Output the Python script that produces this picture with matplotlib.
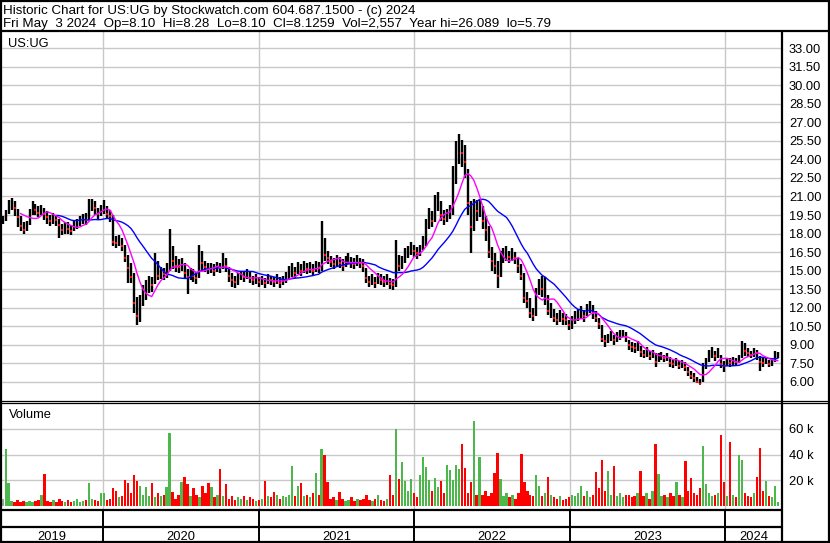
import pandas as pd
import matplotlib
matplotlib.use("Agg")
import matplotlib.pyplot as plt
import matplotlib.dates as mdates
from matplotlib.lines import Line2D

plt.rcParams['font.family'] = ['Liberation Sans', 'DejaVu Sans']

# weekly bars, May 2019 - May 2024
week_end = pd.date_range('2019-05-10', periods=261, freq='W-FRI')

close = [
    19.1, 19.4, 20.3, 20.5, 20.1, 19.3, 18.6, 18.3, 18.6, 19.6,
    20.2, 19.9, 19.7, 20.0, 19.6, 19.3, 19.0, 19.3, 19.1, 18.7,
    18.3, 18.5, 18.4, 18.2, 18.6, 18.8, 19.0, 19.2, 19.1, 20.0,
    20.4, 20.1, 19.6, 19.9, 20.3, 19.6, 19.4, 17.3, 17.2, 17.4,
    17.0, 16.0, 15.2, 14.5, 12.4, 11.3, 12.3, 13.0, 13.5, 14.0,
    13.8, 15.5, 14.6, 14.8, 14.7, 15.0, 16.6, 15.8, 15.4, 15.3,
    15.6, 14.8, 14.5, 14.7, 14.6, 14.4, 16.0, 15.6, 15.3, 15.1,
    15.2, 15.0, 15.3, 15.2, 15.8, 15.4, 14.6, 14.2, 14.1, 14.3,
    14.6, 14.5, 14.7, 14.4, 14.2, 14.3, 14.1, 14.2, 14.0, 14.3,
    14.2, 14.1, 14.3, 14.0, 14.2, 14.4, 14.8, 15.0, 14.8, 15.2,
    15.0, 15.3, 15.1, 15.2, 15.0, 15.3, 15.2, 17.2, 16.3, 16.0,
    15.7, 15.5, 15.8, 15.6, 15.4, 15.7, 15.9, 15.6, 15.5, 15.8,
    15.6, 15.4, 14.4, 14.1, 14.2, 14.0, 14.3, 14.2, 14.1, 14.2,
    13.9, 13.8, 15.8, 15.4, 15.6, 16.2, 16.5, 16.8, 16.6, 16.4,
    16.7, 17.2, 18.5, 19.2, 19.0, 20.5, 20.8, 19.5, 19.2, 19.4,
    19.6, 22.5, 24.0, 25.0, 24.5, 23.8, 20.5, 18.5, 20.0, 19.8,
    20.0, 19.0, 18.3, 16.5, 15.8, 15.4, 14.6, 16.0, 16.2, 16.4,
    16.1, 16.3, 16.0, 15.4, 14.6, 12.8, 12.5, 11.6, 11.3, 12.8,
    13.8, 13.5, 13.9, 11.7, 11.9, 11.2, 11.0, 11.3, 11.1, 11.0,
    10.6, 10.8, 11.2, 11.4, 11.6, 11.3, 11.8, 12.1, 11.6, 11.2,
    10.7, 9.5, 9.3, 9.5, 9.7, 9.4, 9.6, 9.8, 10.0, 9.6,
    9.0, 8.8, 8.7, 8.9, 8.4, 8.2, 8.4, 8.1, 8.2, 7.6,
    8.0, 8.1, 7.9, 8.0, 7.5, 7.4, 7.6, 7.3, 7.4, 7.2,
    6.8, 6.5, 6.3, 6.0, 5.85, 7.2, 7.5, 8.2, 8.4, 8.1,
    8.3, 7.4, 7.3, 7.6, 7.5, 7.7, 7.6, 7.8, 8.8, 8.5,
    8.3, 8.2, 8.4, 8.3, 7.6, 7.5, 7.7, 7.4, 7.6, 8.0,
    8.13,
]

high = [
    19.4, 19.9, 20.7, 20.9, 20.6, 20.0, 19.4, 18.9, 19.0, 20.0,
    20.6, 20.4, 20.2, 20.3, 20.1, 19.8, 19.5, 19.7, 19.5, 19.2,
    18.8, 18.9, 18.9, 18.7, 19.0, 19.2, 19.4, 19.6, 19.7, 20.8,
    20.8, 20.6, 20.1, 20.3, 20.7, 20.2, 19.9, 19.5, 17.8, 17.9,
    17.6, 17.1, 16.3, 15.6, 14.8, 12.9, 13.0, 13.8, 14.2, 14.6,
    14.5, 16.4, 15.8, 15.3, 15.2, 15.6, 18.4, 17.0, 16.2, 15.9,
    16.0, 15.6, 15.1, 15.2, 15.1, 14.9, 17.1, 16.6, 15.8, 15.6,
    15.6, 15.5, 15.7, 15.6, 16.4, 16.0, 15.3, 14.8, 14.6, 14.8,
    15.0, 14.9, 15.1, 14.9, 14.6, 14.7, 14.5, 14.6, 14.4, 14.7,
    14.6, 14.5, 14.7, 14.5, 14.6, 14.9, 15.4, 15.6, 15.3, 15.7,
    15.5, 15.8, 15.6, 15.7, 15.5, 15.8, 15.7, 19.0, 17.6, 16.6,
    16.2, 16.0, 16.3, 16.1, 15.9, 16.2, 16.4, 16.1, 16.0, 16.3,
    16.0, 15.9, 15.2, 14.6, 14.7, 14.5, 14.8, 14.7, 14.6, 14.7,
    14.4, 14.3, 17.5, 16.3, 16.2, 16.8, 17.0, 17.3, 17.1, 16.9,
    17.1, 17.8, 19.2, 20.1, 19.8, 21.1, 21.4, 20.6, 19.9, 20.0,
    20.3, 23.5, 25.5, 26.09, 25.6, 25.2, 23.2, 20.6, 20.8, 20.7,
    20.8, 20.2, 19.4, 18.6, 16.9, 16.4, 15.8, 16.6, 16.8, 17.0,
    16.6, 16.8, 16.5, 16.0, 15.5, 14.8, 13.3, 12.8, 12.0, 13.6,
    14.3, 14.6, 14.5, 13.0, 12.4, 11.9, 11.6, 11.8, 11.6, 11.5,
    11.0, 11.3, 11.7, 11.9, 12.1, 11.8, 12.3, 12.5, 12.2, 11.7,
    11.2, 10.6, 9.8, 9.9, 10.1, 9.8, 10.0, 10.2, 10.2, 10.0,
    9.4, 9.2, 9.1, 9.3, 8.9, 8.6, 8.8, 8.5, 8.6, 8.3,
    8.3, 8.4, 8.2, 8.3, 8.0, 7.8, 7.9, 7.7, 7.8, 7.6,
    7.2, 6.9, 6.7, 6.4, 6.2, 7.5, 7.9, 8.6, 8.8, 8.5,
    8.7, 8.2, 7.7, 7.9, 7.9, 8.0, 7.9, 8.2, 9.3, 9.1,
    8.7, 8.5, 8.7, 8.6, 8.1, 7.9, 8.0, 7.8, 7.9, 8.5,
    8.4,
]

low = [
    18.8, 19.0, 19.6, 19.9, 19.4, 18.5, 18.2, 18.0, 18.2, 18.7,
    19.5, 19.5, 19.3, 19.5, 19.1, 18.8, 18.6, 18.8, 18.6, 17.6,
    17.9, 18.0, 18.0, 17.9, 18.2, 18.4, 18.6, 18.8, 18.7, 19.1,
    19.8, 19.5, 19.2, 19.4, 19.6, 19.2, 18.9, 17.0, 16.8, 17.0,
    16.6, 15.7, 14.0, 14.0, 11.6, 10.6, 10.8, 12.1, 12.6, 13.2,
    13.3, 13.9, 14.2, 14.3, 14.2, 14.4, 15.0, 15.1, 14.9, 14.8,
    15.0, 14.3, 13.1, 14.2, 14.1, 13.9, 14.4, 15.0, 14.9, 14.7,
    14.8, 14.6, 14.9, 14.8, 15.1, 14.9, 14.1, 13.7, 13.6, 13.8,
    14.2, 14.1, 14.3, 14.0, 13.8, 13.9, 13.7, 13.8, 13.6, 13.9,
    13.8, 13.7, 13.9, 13.6, 13.8, 14.0, 14.3, 14.5, 14.4, 14.7,
    14.6, 14.8, 14.7, 14.8, 14.6, 14.9, 14.8, 15.0, 15.8, 15.5,
    15.3, 15.1, 15.4, 15.2, 15.0, 15.3, 15.5, 15.2, 15.1, 15.4,
    15.2, 14.9, 14.0, 13.7, 13.8, 13.6, 13.9, 13.8, 13.7, 13.8,
    13.5, 13.4, 13.7, 15.0, 15.1, 15.6, 16.0, 16.3, 16.1, 15.9,
    16.2, 16.7, 17.0, 18.4, 18.5, 18.9, 19.8, 19.0, 18.7, 18.9,
    19.2, 19.5, 22.0, 23.6, 23.4, 22.5, 19.5, 16.4, 18.2, 19.0,
    19.3, 18.4, 17.4, 16.0, 15.0, 14.7, 13.6, 14.5, 15.6, 15.8,
    15.6, 15.8, 15.5, 14.8, 14.2, 12.4, 12.0, 11.2, 10.9, 11.3,
    13.0, 12.9, 12.2, 11.4, 11.2, 10.8, 10.6, 10.8, 10.6, 10.6,
    10.2, 10.3, 10.7, 10.9, 11.1, 10.8, 11.3, 11.6, 11.1, 10.8,
    10.3, 9.2, 8.8, 9.1, 9.3, 9.0, 9.2, 9.4, 9.6, 9.2,
    8.6, 8.4, 8.3, 8.5, 8.0, 7.9, 8.0, 7.8, 7.9, 7.2,
    7.6, 7.8, 7.6, 7.7, 7.2, 7.1, 7.3, 7.0, 7.1, 6.9,
    6.5, 6.2, 6.0, 5.9, 5.79, 6.0, 7.0, 7.6, 7.9, 7.7,
    7.9, 7.1, 6.8, 7.3, 7.2, 7.3, 7.3, 7.5, 7.9, 8.1,
    8.0, 7.9, 8.0, 7.8, 6.9, 7.2, 7.4, 7.2, 7.3, 7.6,
    7.9,
]

# volume, thousands of shares
volume_k = [
    6, 44, 18, 4, 3, 5, 3, 4, 3, 4,
    3, 4, 5, 9, 25, 4, 3, 5, 3, 6,
    4, 3, 5, 3, 4, 6, 3, 4, 5, 18,
    6, 5, 4, 10, 10, 5, 6, 14, 12, 7,
    8, 20, 18, 10, 24, 19.5, 16, 9, 15, 8,
    17.7, 7, 10, 8, 9, 15, 56.7, 11, 6, 9,
    18.5, 23, 17, 8, 14, 9, 7, 16, 10, 17.7,
    15, 7, 9, 28.7, 8, 17, 6, 8, 5, 7,
    6, 8, 5, 7, 6, 4, 5, 6, 19.5, 8,
    7, 11, 9, 6, 8, 7, 9, 31, 8, 16,
    17.7, 8, 9, 7, 10, 26, 9, 44, 40, 18.5,
    6, 7, 5, 11, 6, 4, 5, 7, 4, 6,
    5, 6, 8.7, 5, 4, 6, 8.7, 5, 4, 6,
    24.6, 9, 60, 21.5, 34, 19.5, 12, 21.5, 10, 7,
    24, 38, 30.5, 20, 12, 22, 15, 19.5, 10, 32,
    28, 20, 32, 28.7, 48, 30, 10, 19, 66, 9,
    38, 9, 12, 8, 10, 26, 41.5, 21, 8, 10,
    7, 9, 6, 10, 40.8, 18.5, 12, 9, 8, 24,
    16, 8, 10, 22.8, 9, 7, 6, 8, 5, 6,
    7, 9, 8, 10, 16, 8, 12, 7, 9, 26.7,
    14, 35.6, 12, 27, 9, 31, 8, 10, 7, 9,
    9, 7, 8, 10, 27, 8, 10, 6, 12, 48,
    25, 8, 9, 7, 10, 8, 18.5, 9, 7, 35,
    12, 22, 10, 9, 14, 47, 17, 10, 8, 9,
    10, 55, 18.5, 8, 50, 9, 7, 40, 36, 10,
    8, 7, 10, 23, 45, 12, 19.5, 8, 7, 16,
    3,
]

years = [2019, 2020, 2021, 2022, 2023, 2024]

header1 = "Historic Chart for US:UG by Stockwatch.com 604.687.1500 - (c) 2024"
header2 = ("Fri May  3 2024  Op=8.10  Hi=8.28  Lo=8.10  Cl=8.1259  "
           "Vol=2,557  Year hi=26.089  lo=5.79")

df = pd.DataFrame({"high": high, "low": low, "close": close,
                   "volume": [v * 1000 for v in volume_k]}, index=week_end)
df["ma_short"] = df["close"].rolling(7).mean()
df["ma_long"] = df["close"].rolling(19).mean()
change = df["close"].diff().fillna(0)

W, H = 830, 543
fig = plt.figure(figsize=(W / 100, H / 100), dpi=100)
fs = 9.3
grid_col = "#c8c8c8"


def box(x0, y_top, x1, y_bot):
    # pixel box -> figure fraction rect
    return [x0 / W, 1 - y_bot / H, (x1 - x0) / W, (y_bot - y_top) / H]


def fig_line(xs, ys, lw):
    fig.add_artist(Line2D([x / W for x in xs], [1 - y / H for y in ys],
                          color="black", lw=lw, solid_capstyle="butt"))


x_left = mdates.date2num(pd.Timestamp("2019-05-06"))
x_right = mdates.date2num(pd.Timestamp("2024-05-13"))
year_starts = [pd.Timestamp(f"{y}-01-01") for y in years[1:]]

# ---- price panel
ax = fig.add_axes(box(1, 31, 782, 401))
ax.set_xlim(x_left, x_right)
ax.set_ylim(4.44, 34.40)
for s in ax.spines.values():
    s.set_visible(False)
ax.set_yticks([6 + 1.5 * i for i in range(19)])
ax.yaxis.tick_right()
ax.yaxis.set_major_formatter(plt.FuncFormatter(lambda v, p: f"{v:.2f}"))
ax.tick_params(axis="y", length=0, pad=5, labelsize=fs)
ax.set_xticks(mdates.date2num(year_starts))
ax.tick_params(axis="x", length=0, labelbottom=False)
ax.grid(True, color=grid_col, lw=1.0)
ax.set_axisbelow(True)

ax.vlines(df.index, df["low"], df["high"], color="black", lw=1.7, zorder=2)
down = df[change < 0]
ax.scatter(down.index, down["close"], marker="s", s=2.5, color="red",
           lw=0, zorder=3)
ax.plot(df.index, df["ma_long"], color="#0000ff", lw=1.0, zorder=4)
ax.plot(df.index, df["ma_short"], color="#ff00ff", lw=1.0, zorder=4)
ax.text(7 / 781, 1 - 15.7 / 370, "US:UG", transform=ax.transAxes,
        fontsize=fs, va="baseline")

# ---- volume panel
axv = fig.add_axes(box(1, 402.7, 782, 509.5))
axv.set_xlim(x_left, x_right)
axv.set_ylim(-2500, 80200)
for s in axv.spines.values():
    s.set_visible(False)
axv.set_yticks([20000, 40000, 60000])
axv.set_yticklabels(["20 k", "40 k", "60 k"])
axv.yaxis.tick_right()
axv.tick_params(axis="y", length=0, pad=5, labelsize=fs)
axv.set_xticks(mdates.date2num(year_starts))
axv.tick_params(axis="x", length=0, labelbottom=False)
axv.grid(True, color=grid_col, lw=1.0)
axv.set_axisbelow(True)
vol_colors = ["#4cb84c" if c > 0 else ("red" if c < 0 else "#a0a0a0")
              for c in change]
axv.bar(df.index, df["volume"], width=5.5, color=vol_colors, lw=0, zorder=2)
axv.text(8 / 781, 0.86, "Volume", transform=axv.transAxes, fontsize=fs,
         va="baseline")

# ---- year band
axy = fig.add_axes(box(1, 509.5, 782, 542))
axy.set_xlim(x_left, x_right)
axy.set_ylim(0, 1)
axy.axis("off")
axy.vlines(mdates.date2num(year_starts), 0, 1, color="black", lw=1.4)
bounds = [x_left] + list(mdates.date2num(year_starts)) + [x_right]
for i, y in enumerate(years):
    axy.text((bounds[i] + bounds[i + 1]) / 2, 0.06, str(y), ha="center",
             va="baseline", fontsize=fs)

# ---- frame lines
fig_line([0, W], [31, 31], 1.6)
fig_line([782, 782], [31, H], 1.6)
fig_line([0, W], [400.7, 400.7], 0.9)
fig_line([0, W], [402.7, 402.7], 0.9)
fig_line([0, 782], [509.5, 509.5], 1.6)
fig_line([0, 782], [526.7, 526.7], 1.6)
fig_line([0, W], [541.8, 541.8], 1.6)
fig_line([0.8, 0.8], [0, H], 1.6)
fig_line([W - 1.5, W - 1.5], [0, H], 1.6)
fig_line([0, W], [0.8, 0.8], 1.6)

fig.text(3 / W, 1 - 13.6 / H, header1, fontsize=9.6, va="baseline")
fig.text(3 / W, 1 - 27.4 / H, header2, fontsize=9.6, va="baseline")

fig.savefig("out.png", dpi=100)
